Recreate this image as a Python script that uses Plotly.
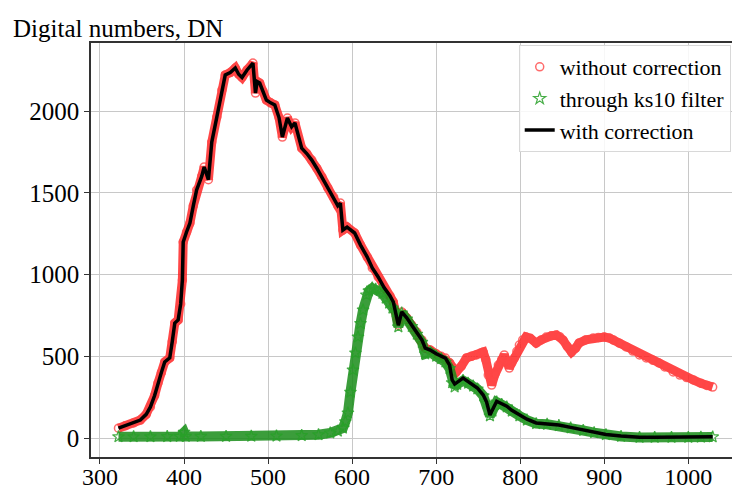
import plotly.graph_objects as go

# ---- data ----
wl_raw = [322, 330, 340, 348, 355, 360, 365, 369, 373, 377, 383, 386, 389, 393, 396, 398, 399,
          403, 407, 411, 415, 421, 424, 429, 433, 439, 445, 449, 455, 461, 465, 469, 475, 482,
          485, 487, 490, 494, 498, 503, 508, 513, 517, 523, 528, 532, 540, 546, 552, 558, 564,
          571, 578, 583, 586, 589, 594, 603, 610, 618, 624, 631, 638, 645, 649, 655, 659, 665,
          671, 677, 683, 687, 693, 700, 706, 711, 716, 720, 724, 730, 736, 742, 748, 753, 756,
          759, 762, 766, 770, 774, 778, 781, 784, 787, 790, 793, 796, 799, 803, 807, 812, 819,
          825, 831, 837, 843, 847, 851, 856, 861, 866, 870, 878, 887, 893, 900, 906, 911, 918,
          926, 934, 942, 950, 958, 965, 972, 982, 990, 998, 1006, 1015, 1022, 1029]
dn_raw = [60, 75, 92, 110, 145, 190, 260, 336, 400, 465, 490, 590, 703, 722, 820, 966, 1199,
          1260, 1315, 1420, 1517, 1600, 1658, 1580, 1810, 1963, 2128, 2220, 2235, 2263, 2225,
          2205, 2251, 2293, 2110, 2180, 2171, 2120, 2067, 2050, 2037, 1960, 1841, 1957, 1903,
          1927, 1773, 1740, 1700, 1650, 1597, 1530, 1474, 1420, 1437, 1272, 1290, 1254, 1180,
          1107, 1040, 985, 920, 870, 832, 690, 771, 735, 690, 648, 600, 550, 538, 515, 500, 489,
          460, 430, 404, 440, 489, 500, 508, 520, 526, 480, 385, 324, 390, 446, 480, 508, 470,
          428, 460, 489, 530, 569, 600, 618, 610, 581, 600, 618, 625, 630, 620, 599, 560, 526,
          550, 581, 600, 612, 615, 618, 612, 599, 580, 557, 532, 508, 490, 475, 459, 435, 404,
          385, 370, 355, 335, 322, 312]

wl_ks10 = [322, 340, 360, 380, 395, 400, 402, 420, 450, 480, 510, 540, 560, 574, 583, 589, 592,
           595, 598, 601, 604, 607, 610, 613, 617, 620, 624, 628, 633, 636, 640, 644, 648, 652,
           655, 659, 665, 671, 677, 683, 687, 693, 700, 706, 711, 716, 719, 722, 725, 732, 738,
           744, 749, 756, 760, 764, 767, 772, 778, 784, 790, 799, 808, 819, 832, 846, 860, 875,
           888, 902, 920, 942, 960, 980, 1000, 1015, 1029]
dn_ks10 = [8, 8, 8, 9, 10, 35, 10, 10, 10, 11, 12, 15, 20, 31, 42, 61, 100, 153, 280, 416, 520,
           618, 700, 783, 875, 900, 917, 910, 905, 885, 856, 825, 795, 770, 680, 765, 728, 682,
           635, 585, 515, 525, 500, 485, 465, 425, 338, 312, 328, 352, 335, 318, 300, 258, 212,
           136, 165, 220, 205, 190, 165, 136, 110, 88, 84, 76, 62, 46, 33, 20, 10, 4, 4, 4, 4,
           5, 7]

wl_corr = [322, 330, 340, 348, 355, 360, 365, 369, 373, 377, 383, 386, 389, 393, 396, 398, 399,
           403, 407, 411, 415, 421, 424, 429, 433, 439, 445, 449, 455, 461, 465, 469, 475, 482,
           485, 487, 490, 494, 498, 503, 508, 513, 517, 523, 528, 532, 540, 546, 552, 558, 564,
           571, 578, 583, 586, 589, 594, 603, 610, 618, 624, 631, 638, 645, 649, 655, 659, 665,
           671, 677, 683, 687, 693, 700, 706, 711, 716, 719, 722, 725, 732, 738, 744, 749, 756,
           760, 764, 767, 772, 778, 784, 790, 799, 808, 819, 832, 846, 860, 875, 888, 902, 920,
           942, 960, 980, 1000, 1015, 1029]
dn_corr = [60, 75, 92, 110, 145, 190, 260, 336, 400, 465, 490, 590, 703, 722, 820, 966, 1199,
           1260, 1315, 1420, 1517, 1600, 1658, 1580, 1810, 1963, 2128, 2220, 2235, 2263, 2225,
           2205, 2251, 2293, 2110, 2180, 2171, 2120, 2067, 2050, 2037, 1960, 1841, 1957, 1903,
           1927, 1773, 1740, 1700, 1650, 1597, 1530, 1474, 1420, 1437, 1272, 1290, 1254, 1180,
           1107, 1040, 985, 920, 870, 832, 690, 771, 735, 690, 648, 600, 550, 538, 515, 500, 489,
           446, 355, 330, 342, 367, 345, 324, 306, 263, 220, 141, 170, 225, 210, 195, 170, 141,
           115, 92, 88, 80, 65, 49, 35, 22, 12, 5, 5, 5, 5, 6, 8]

x_ticks = [300, 400, 500, 600, 700, 800, 900, 1000]
y_ticks = [0, 500, 1000, 1500, 2000]

FONT = "Liberation Serif"
RED_BAND = "rgba(255,25,25,0.8)"
RED_MK = "rgba(255,70,70,0.8)"
GREEN_BAND = "rgba(25,140,25,0.85)"
GREEN_MK = "rgba(40,160,40,0.85)"

fig = go.Figure()

# without correction: red band + open circles
fig.add_trace(go.Scatter(x=wl_raw, y=dn_raw, mode="lines", showlegend=False,
                         line=dict(color=RED_BAND, width=9), hoverinfo="skip"))
fig.add_trace(go.Scatter(x=wl_raw, y=dn_raw, mode="markers", name="without correction",
                         marker=dict(symbol="circle-open", size=8, color=RED_MK,
                                     line=dict(width=1.5, color=RED_MK))))
# through ks10 filter: green band + open stars
fig.add_trace(go.Scatter(x=wl_ks10, y=dn_ks10, mode="lines", showlegend=False,
                         line=dict(color=GREEN_BAND, width=10), hoverinfo="skip"))
fig.add_trace(go.Scatter(x=wl_ks10, y=dn_ks10, mode="markers", name="through ks10 filter",
                         marker=dict(symbol="star-open", size=9, color=GREEN_MK,
                                     line=dict(width=1.2, color=GREEN_MK))))
# with correction: black line
fig.add_trace(go.Scatter(x=wl_corr, y=dn_corr, mode="lines", name="with correction",
                         line=dict(color="black", width=3.5)))

fig.update_layout(
    width=732, height=491,
    margin=dict(l=91, r=0, t=43, b=34, autoexpand=False),
    paper_bgcolor="white", plot_bgcolor="white",
    font=dict(family=FONT, size=22, color="black"),
    showlegend=True,
    legend=dict(x=0.998, y=0.995, xanchor="right", yanchor="top",
                bgcolor="rgba(255,255,255,0.85)", bordercolor="#d8d8d8", borderwidth=1,
                font=dict(family=FONT, size=22, color="black"),
                itemwidth=30, tracegroupgap=0),
    annotations=[dict(text="Digital numbers, DN", xref="paper", yref="paper",
                      x=-0.125, y=1.0, xanchor="left", yanchor="bottom", yshift=-1,
                      showarrow=False, font=dict(family=FONT, size=25, color="black"))],
)
fig.update_xaxes(range=[289.3, 1052], tickvals=x_ticks, ticktext=[str(v) for v in x_ticks],
                 showgrid=True, gridcolor="#c8c8c8", gridwidth=1, automargin=False,
                 showline=True, linecolor="#333333", linewidth=1.5, mirror=True,
                 ticks="outside", ticklen=5, tickcolor="#333333", zeroline=False,
                 ticklabelstandoff=-8,
                 tickfont=dict(family=FONT, size=24))
fig.update_yaxes(range=[-116, 2416], tickvals=y_ticks, ticktext=[str(v) for v in y_ticks],
                 showgrid=True, gridcolor="#c8c8c8", gridwidth=1, automargin=False,
                 showline=True, linecolor="#333333", linewidth=1.5,
                 ticks="outside", ticklen=5, tickcolor="#333333", zeroline=False,
                 tickfont=dict(family=FONT, size=25))

fig.write_html("out.html")
